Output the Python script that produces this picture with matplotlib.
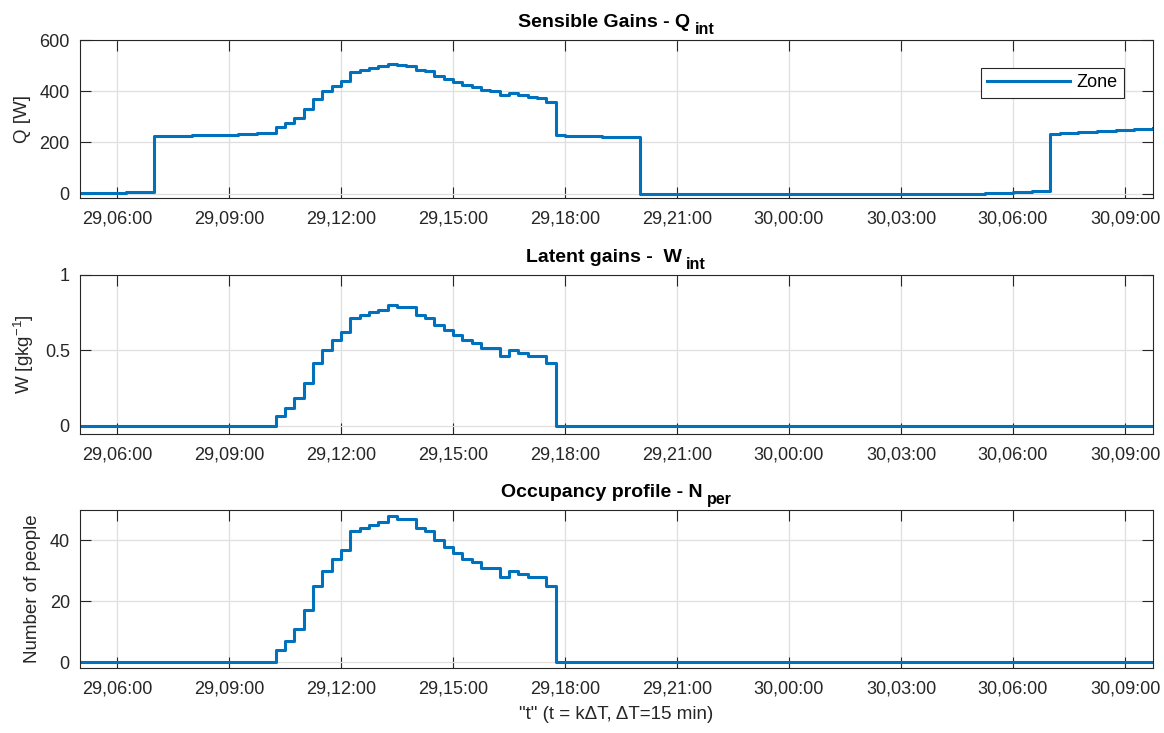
import matplotlib
matplotlib.use("Agg")
import matplotlib.pyplot as plt
import matplotlib.dates as mdates
import pandas as pd

# ---------------- data (15-min steps, 29 05:00 -> 30 09:45) ----------------
start_time = "2019-06-29 05:00"
n_steps = 116
step_freq = "15min"

q_int = [
    2, 2, 3, 3, 4, 5, 6, 7,
    224, 225, 226, 227, 228, 229, 230, 230, 231, 232, 233, 235, 237,
    259, 275, 297, 330, 371, 400, 422, 441, 475, 483, 491, 499, 507, 501, 499,
    484, 478, 461, 449, 438, 424, 416, 405, 401, 384, 393, 386, 376, 374, 357,
    229, 227, 226, 225, 224, 223, 222, 221, 220,
    0, 0, 0, 0, 0, 0, 0, 0, 0, 0, 0, 0, 0, 0, 0, 0, 0, 0, 0, 0, 0, 0, 0, 0, 0,
    0, 0, 0, 0, 0, 0, 0, 0, 0, 0, 0, 0,
    1, 3, 4, 6, 7, 9, 10,
    233, 235, 237, 239, 241, 243, 245, 247, 249, 251, 254, 257,
]

w_int = [
    0, 0, 0, 0, 0, 0, 0, 0, 0, 0, 0, 0, 0, 0, 0, 0, 0, 0, 0, 0, 0,
    0.068, 0.117, 0.185, 0.284, 0.414, 0.500, 0.566, 0.619, 0.716, 0.733,
    0.751, 0.769, 0.802, 0.784, 0.784, 0.733, 0.716, 0.665, 0.634, 0.599,
    0.566, 0.551, 0.515, 0.515, 0.465, 0.500, 0.482, 0.465, 0.465, 0.414,
    0, 0, 0, 0, 0, 0, 0, 0, 0, 0, 0, 0, 0, 0, 0, 0, 0, 0, 0, 0, 0, 0, 0, 0, 0,
    0, 0, 0, 0, 0, 0, 0, 0, 0, 0, 0, 0, 0, 0, 0, 0, 0, 0, 0, 0, 0, 0, 0, 0, 0,
    0, 0, 0, 0, 0, 0, 0, 0, 0, 0, 0, 0, 0, 0, 0,
]

n_per = [
    0, 0, 0, 0, 0, 0, 0, 0, 0, 0, 0, 0, 0, 0, 0, 0, 0, 0, 0, 0, 0,
    4, 7, 11, 17, 25, 30, 34, 37, 43, 44, 45, 46, 48, 47, 47,
    44, 43, 40, 38, 36, 34, 33, 31, 31, 28, 30, 29, 28, 28, 25,
    0, 0, 0, 0, 0, 0, 0, 0, 0, 0, 0, 0, 0, 0, 0, 0, 0, 0, 0, 0, 0, 0, 0, 0, 0,
    0, 0, 0, 0, 0, 0, 0, 0, 0, 0, 0, 0, 0, 0, 0, 0, 0, 0, 0, 0, 0, 0, 0, 0, 0,
    0, 0, 0, 0, 0, 0, 0, 0, 0, 0, 0, 0, 0, 0, 0,
]

title_main = ["Sensible Gains - Q", "Latent gains -  W", "Occupancy profile - N"]
title_sub = ["int", "int", "per"]
ylabels = ["Q [W]", r"W [gkg$^{\mathregular{-1}}$]", "Number of people"]
ylims = [(-18, 600), (-0.053, 1), (-2, 50)]
yticks = [[0, 200, 400, 600], [0, 0.5, 1], [0, 20, 40]]
ytick_labels = [["0", "200", "400", "600"], ["0", "0.5", "1"], ["0", "20", "40"]]
legend_label = "Zone"
xlabel = '"t" (t = k\u0394T, \u0394T=15 min)'

# ---------------- style ----------------
plt.rcParams["font.family"] = ["Liberation Sans", "DejaVu Sans"]
plt.rcParams["mathtext.fontset"] = "custom"
plt.rcParams["mathtext.rm"] = "Liberation Sans"
plt.rcParams["mathtext.it"] = "Liberation Sans:italic"
plt.rcParams["mathtext.bf"] = "Liberation Sans:bold"

line_color = "#0072BD"
axis_color = "#262626"
grid_color = "#dfdfdf"

t = pd.date_range(start_time, periods=n_steps, freq=step_freq)
series = [q_int, w_int, n_per]

FIG_W, FIG_H = 1164, 733
fig = plt.figure(figsize=(FIG_W / 100, FIG_H / 100), dpi=100)
positions = [
    [0.0683, 0.7295, 0.9223, 0.2159],
    [0.0683, 0.4079, 0.9223, 0.2173],
    [0.0683, 0.0883, 0.9223, 0.2159],
]

axes = []
for i, pos in enumerate(positions):
    ax = fig.add_axes(pos)
    ax.step(t, series[i], where="post", color=line_color, lw=2.2,
            label=legend_label)
    ax.set_xlim(t[0], t[-1])
    ax.set_ylim(*ylims[i])
    ax.set_yticks(yticks[i])
    ax.set_yticklabels(ytick_labels[i])
    ax.xaxis.set_major_locator(mdates.HourLocator(byhour=range(0, 24, 3)))
    ax.xaxis.set_major_formatter(mdates.DateFormatter("%d,%H:%M"))
    ax.grid(True, color=grid_color, lw=0.9)
    ax.set_axisbelow(True)
    for sp in ax.spines.values():
        sp.set_color(axis_color)
        sp.set_linewidth(0.8)
    ax.tick_params(axis="both", which="both", direction="in", length=7.7,
                   width=0.8, color=axis_color, labelcolor=axis_color,
                   labelsize=13, top=True, right=True)
    ax.tick_params(axis="x", pad=9)
    ax.tick_params(axis="y", pad=7)
    ax.set_ylabel(ylabels[i], fontsize=13.5, color=axis_color, labelpad=6)
    axes.append(ax)

leg = axes[0].legend(loc="upper right", bbox_to_anchor=(0.973, 0.823),
                     fontsize=13, frameon=True, fancybox=False, framealpha=1,
                     handlelength=4.6, handletextpad=0.35, borderpad=0.35,
                     borderaxespad=0)
leg.get_frame().set_edgecolor(axis_color)
leg.get_frame().set_linewidth(0.8)

axes[2].set_xlabel(xlabel, fontsize=13.5, color=axis_color, labelpad=6)

# ---------------- titles with lowered subscripts (MATLAB-like) ----------------
fig.canvas.draw()
renderer = fig.canvas.get_renderer()
gap_px = 4
drop_px = 7
rise_px = 13
for i, ax in enumerate(axes):
    bb = ax.get_position()
    cx = (bb.x0 + bb.x1) / 2 * FIG_W
    base_y = bb.y1 * FIG_H + rise_px
    tm = fig.text(0, 0, title_main[i], fontsize=14, fontweight="bold",
                  color="black", ha="left", va="baseline")
    ts = fig.text(0, 0, title_sub[i], fontsize=11.5, fontweight="bold",
                  color="black", ha="left", va="baseline")
    wm = tm.get_window_extent(renderer).width
    ws = ts.get_window_extent(renderer).width
    total = wm + gap_px + ws
    x0 = cx - total / 2
    tm.set_position((x0 / FIG_W, base_y / FIG_H))
    ts.set_position(((x0 + wm + gap_px) / FIG_W, (base_y - drop_px) / FIG_H))

fig.savefig("out.png", dpi=100)
